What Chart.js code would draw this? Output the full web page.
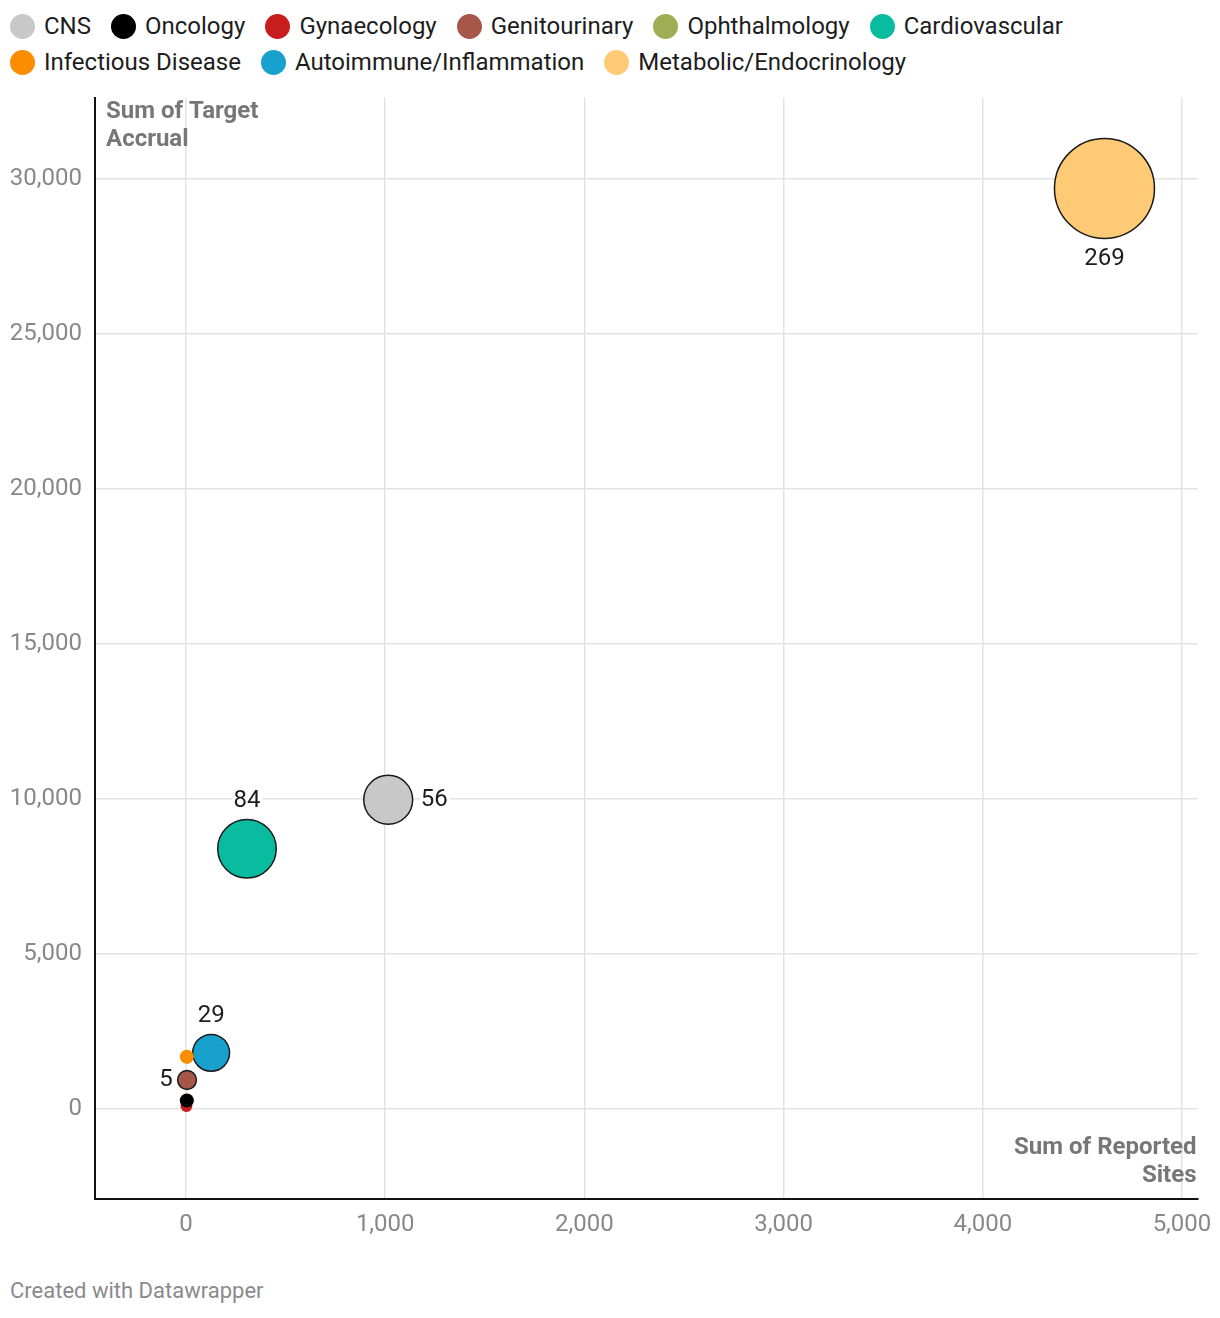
<!DOCTYPE html>
<html lang="en">
<head>
  <meta charset="UTF-8" />
  <title>Target Accrual vs Reported Sites</title>
  <script src="https://cdn.jsdelivr.net/npm/chart.js"></script>
  <style>
    body {
      margin: 0;
      font-family: Roboto, Arial, sans-serif;
      background: #fff;
      width: 1220px;
      height: 1318px;
      position: relative;
      overflow: hidden;
    }
    #legend {
      position: absolute;
      top: 8px;
      left: 10px;
      width: 1200px;
      display: flex;
      flex-wrap: wrap;
      font-size: 24px;
      color: #1d1d1d;
      line-height: 36px;
    }
    .item { display: flex; align-items: center; margin-right: 20px; }
    .dot { width: 25px; height: 25px; border-radius: 50%; margin-right: 9px; }
    /* bubble overflow adds ~51px padding on top/right, so the box reaches past it */
    .chart-box {
      position: absolute;
      top: 46px;
      left: 0;
      width: 1249px;
      height: 1214px;
    }
    #footer {
      position: absolute;
      left: 10px;
      top: 1278px;
      font-size: 22px;
      color: #8a8a8a;
    }
  </style>
</head>
<body>
  <div id="legend"></div>
  <div class="chart-box">
    <canvas id="bubbleChart"></canvas>
  </div>
  <div id="footer">Created with Datawrapper</div>

  <script>
    const categories = ['CNS', 'Oncology', 'Gynaecology', 'Genitourinary', 'Ophthalmology',
      'Cardiovascular', 'Infectious Disease', 'Autoimmune/Inflammation', 'Metabolic/Endocrinology'];
    const reportedSites = [1015, 4, 2, 5, 2, 306, 4, 126, 4611];
    const targetAccrual = [9970, 275, 95, 935, 100, 8390, 1680, 1810, 29680];
    const studyCount = [56, 2, 1, 5, 1, 84, 2, 29, 269];
    const colors = ['#c8c8c8', '#000000', '#c71e1d', '#a6574a', '#9fae55',
      '#09bb9f', '#fa8c00', '#18a1cd', '#ffca76'];
    const xTicks = [0, 1000, 2000, 3000, 4000, 5000];
    const yTicks = [0, 5000, 10000, 15000, 20000, 25000, 30000];

    // where the count label sits relative to its bubble
    const labelPos = { 'CNS': 'right', 'Genitourinary': 'left', 'Cardiovascular': 'above',
      'Autoimmune/Inflammation': 'above', 'Metabolic/Endocrinology': 'below' };

    const maxCount = Math.max(...studyCount);
    const radius = v => 3 + 47 * Math.sqrt(v / maxCount);

    // legend
    const legend = document.getElementById('legend');
    categories.forEach((c, i) => {
      const el = document.createElement('div');
      el.className = 'item';
      el.innerHTML = '<span class="dot" style="background:' + colors[i] + '"></span>' + c;
      legend.appendChild(el);
    });

    const datasets = categories.map((c, i) => ({
      label: c,
      data: [{ x: reportedSites[i], y: targetAccrual[i], r: radius(studyCount[i]) }],
      backgroundColor: colors[i],
      borderColor: '#1a1a1a',
      borderWidth: studyCount[i] >= 5 ? 1.5 : 0,
      hoverRadius: 0
    }));

    const labelsPlugin = {
      id: 'extras',
      afterDatasetsDraw(chart) {
        const ctx = chart.ctx;
        const area = chart.chartArea;
        ctx.save();
        ctx.font = '24px Roboto';
        ctx.fillStyle = '#1d1d1d';
        ctx.strokeStyle = '#fff';
        ctx.lineWidth = 6;
        ctx.lineJoin = 'round';
        chart.data.datasets.forEach((ds, i) => {
          if (studyCount[i] < 5) return;
          const pt = chart.getDatasetMeta(i).data[0];
          const r = ds.data[0].r;
          const pos = labelPos[ds.label];
          let x = pt.x, y = pt.y;
          ctx.textBaseline = 'middle';
          if (pos === 'below') { ctx.textAlign = 'center'; y += r + 21; }
          else if (pos === 'above') { ctx.textAlign = 'center'; y -= r + 18; }
          else if (pos === 'right') { ctx.textAlign = 'left'; x += r + 8; }
          else { ctx.textAlign = 'right'; x -= r + 5; }
          const txt = String(studyCount[i]);
          ctx.strokeText(txt, x, y);
          ctx.fillText(txt, x, y);
        });
        // axis titles
        ctx.font = 'bold 24px Roboto';
        ctx.fillStyle = '#777';
        ctx.textAlign = 'left';
        ctx.fillText('Sum of Target', area.left + 11, area.top + 14);
        ctx.fillText('Accrual', area.left + 11, area.top + 42);
        ctx.textAlign = 'right';
        ctx.fillText('Sum of Reported', area.right - 1, area.bottom - 51);
        ctx.fillText('Sites', area.right - 1, area.bottom - 23);
        ctx.restore();
      }
    };

    const tickFont = { family: 'Roboto', size: 24 };
    const noPad = s => { s.paddingTop = 0; s.paddingBottom = 0; s.paddingLeft = 0; s.paddingRight = 0; };

    new Chart(document.getElementById('bubbleChart'), {
      type: 'bubble',
      data: { datasets: datasets },
      plugins: [labelsPlugin],
      options: {
        responsive: true,
        maintainAspectRatio: false,
        animation: false,
        layout: { padding: 0 },
        plugins: {
          legend: { display: false },
          tooltip: { enabled: false }
        },
        scales: {
          x: {
            type: 'linear',
            min: -457,
            max: 5078,
            afterBuildTicks: s => { s.ticks = xTicks.map(v => ({ value: v })); },
            afterFit: s => { s.height = 61; noPad(s); },
            ticks: {
              font: tickFont,
              color: '#888',
              padding: 12,
              maxRotation: 0,
              callback: v => v.toLocaleString('en-US')
            },
            grid: { color: '#e3e3e3', lineWidth: 1.5, drawTicks: false },
            border: { color: '#111', width: 2 }
          },
          y: {
            type: 'linear',
            min: -2903,
            max: 32613,
            afterBuildTicks: s => { s.ticks = yTicks.map(v => ({ value: v })); },
            afterFit: s => { s.width = 95; noPad(s); },
            ticks: {
              font: tickFont,
              color: '#888',
              padding: 13,
              callback: v => v.toLocaleString('en-US')
            },
            grid: { color: '#e3e3e3', lineWidth: 1.5, drawTicks: false },
            border: { color: '#111', width: 2 }
          }
        }
      }
    });
  </script>
</body>
</html>
